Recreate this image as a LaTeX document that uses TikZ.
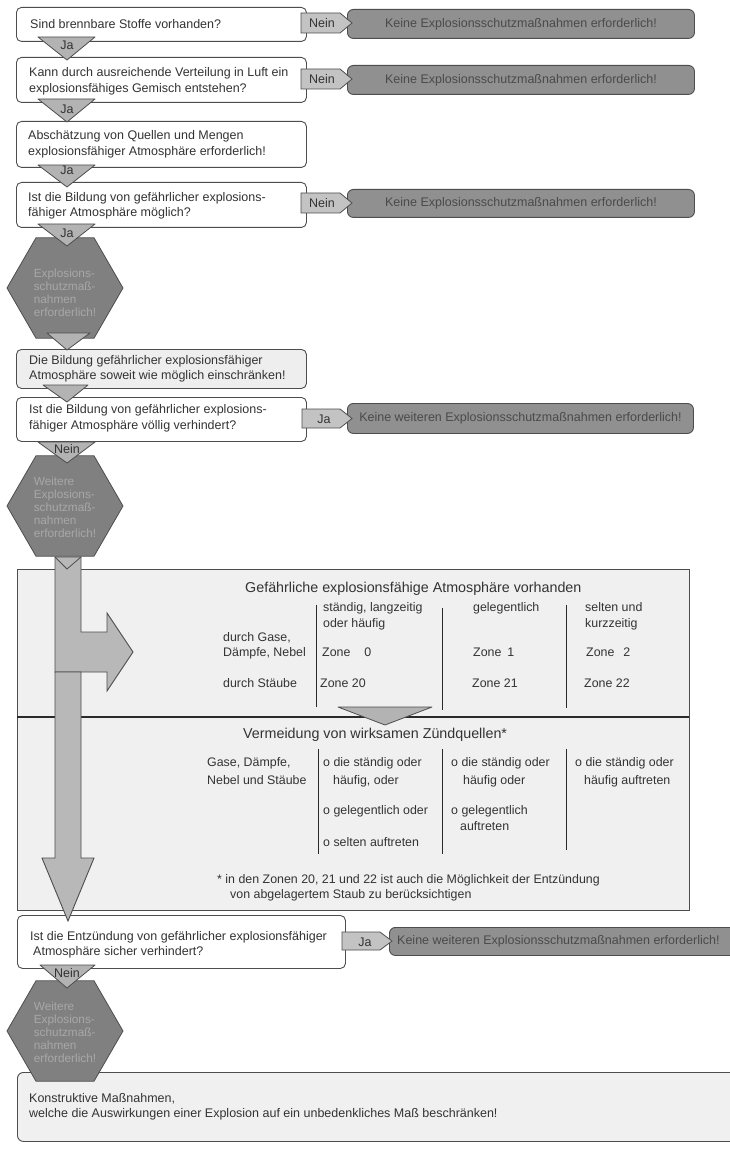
\documentclass[tikz,border=0pt]{standalone}
\usepackage{fontspec}
\setmainfont{Liberation Sans}
\usetikzlibrary{shapes.geometric,calc}
\definecolor{bd}{HTML}{4D4D4D}
\definecolor{txt}{HTML}{333333}
\definecolor{rfill}{HTML}{909090}
\definecolor{rtxt}{HTML}{4A4A4A}
\definecolor{trifill}{HTML}{B3B3B3}
\definecolor{sidefill}{HTML}{C3C3C3}
\definecolor{hexfill}{HTML}{808080}
\definecolor{hextxt}{HTML}{A8A8A8}
\definecolor{panel}{HTML}{F0F0F0}
\definecolor{lightbox}{HTML}{EEEEEE}
\definecolor{arrowfill}{HTML}{B8B8B8}
\definecolor{dark}{HTML}{2A2A2A}
\newcommand\fQ{\fontsize{12.5}{15.5}\selectfont}
\newcommand\fH{\fontsize{11.8}{13}\selectfont}
\newcommand\fT{\fontsize{12.4}{15}\selectfont}
\newcommand\fB{\fontsize{14.3}{17}\selectfont}
\begin{document}
\begin{tikzpicture}[x=1pt,y=-1pt,
  qbox/.style={draw=bd, fill=white, rounded corners=5pt, line width=0.9pt, anchor=north west, inner sep=0pt},
  qtext/.style={anchor=west, align=left, inner sep=0pt, text=txt, font=\fQ},
  rbox/.style={draw=bd, fill=rfill, rounded corners=6pt, line width=0.9pt, anchor=north west, inner sep=0pt, text=rtxt, font=\fQ},
  tri/.style={draw=bd, fill=trifill, line width=0.8pt, line join=round},
  side/.style={draw=bd, fill=sidefill, line width=0.8pt},
  lbl/.style={anchor=base, inner sep=0pt, text=txt, font=\fQ},
  hexa/.style={regular polygon, regular polygon sides=6, minimum size=116pt, draw=bd, fill=hexfill, line width=0.8pt, inner sep=0pt},
  hextext/.style={align=left, inner sep=0pt, text=hextxt, font=\fH},
  ttext/.style={anchor=base west, inner sep=0pt, text=txt, font=\fT},
  head/.style={anchor=base west, inner sep=0pt, text=txt, font=\fB},
  colline/.style={draw=dark, line width=0.9pt},
]
\useasboundingbox (0,0) rectangle (730,1150);
\clip (0,0) rectangle (730,1150);
\fill[white] (0,0) rectangle (730,1150);

% ---------- big panel ----------
\draw[draw=bd, fill=panel, line width=1pt] (17,569) rectangle (689,910);
\draw[draw=dark, line width=1.6pt] (17,717) -- (689,717);
\draw[colline] (316,605) -- (316,707);
\draw[colline] (442,608) -- (442,710);
\draw[colline] (566,605) -- (566,708);
\draw[colline] (318,749) -- (318,854);
\draw[colline] (442,749) -- (442,854);
\draw[colline] (566,749) -- (566,850);
\draw[tri] (338,707) -- (432,707) -- (385,725) -- cycle;

\node[head] (ph1) at (245,592) {Gefährliche explosionsfähige Atmosphäre vorhanden};
\node[ttext] (c1a) at (323,611) {ständig, langzeitig};
\node[ttext] (c1b) at (323,627) {oder häufig};
\node[ttext] (c2a) at (473,611) {gelegentlich};
\node[ttext] (c3a) at (585,611) {selten und};
\node[ttext] (c3b) at (585,627) {kurzzeitig};
\node[ttext] (r1a) at (223,641) {durch Gase,};
\node[ttext] (r1b) at (223,656) {Dämpfe, Nebel};
\node[ttext] (z0) at (322,656) {Zone\hspace{14pt}0};
\node[ttext] (z1) at (473,656) {Zone\hspace{6pt}1};
\node[ttext] (z2) at (586,656) {Zone\hspace{9pt}2};
\node[ttext] (r2a) at (223,687) {durch Stäube};
\node[ttext] (z20) at (320,687) {Zone 20};
\node[ttext] (z21) at (472,687) {Zone 21};
\node[ttext] (z22) at (584,687) {Zone 22};

\node[head] (ph2) at (243,738) {Vermeidung von wirksamen Zündquellen*};
\node[ttext] (g1) at (207,766) {Gase, Dämpfe,};
\node[ttext] (g2) at (207,784) {Nebel und Stäube};
\node[ttext] (a1) at (323,766) {o die ständig oder};
\node[ttext] (a2) at (333,784) {häufig, oder};
\node[ttext] (a3) at (323,814) {o gelegentlich oder};
\node[ttext] (a4) at (323,846) {o selten auftreten};
\node[ttext] (b1) at (451,766) {o die ständig oder};
\node[ttext] (b2) at (463,784) {häufig oder};
\node[ttext] (b3) at (451,814) {o gelegentlich};
\node[ttext] (b4) at (460,830) {auftreten};
\node[ttext] (d1) at (575,766) {o die ständig oder};
\node[ttext] (d2) at (584,784) {häufig auftreten};
\node[ttext] (fn1) at (217,883) {* in den Zonen 20, 21 und 22 ist auch die Möglichkeit der Entzündung};
\node[ttext] (fn2) at (230,898) {von abgelagertem Staub zu berücksichtigen};

% ---------- question boxes ----------
\node[qbox, minimum width=290pt, minimum height=34pt] (q1) at (16,7) {};
\node[qtext] (q1t) at ([xshift=14pt]q1.west) {Sind brennbare Stoffe vorhanden?};
\node[qbox, minimum width=290pt, minimum height=45pt] (q2) at (16,57) {};
\node[qtext] (q2t) at ([xshift=13pt,yshift=-1.5pt]q2.west) {Kann durch ausreichende Verteilung in Luft ein\\explosionsfähiges Gemisch entstehen?};
\node[qbox, minimum width=290pt, minimum height=46pt] (q3) at (16,121) {};
\node[qtext] (q3t) at ([xshift=12pt]q3.west) {Abschätzung von Quellen und Mengen\\explosionsfähiger Atmosphäre erforderlich!};
\node[qbox, minimum width=290pt, minimum height=45pt] (q4) at (16,182) {};
\node[qtext] (q4t) at ([xshift=12pt,yshift=-1pt]q4.west) {Ist die Bildung von gefährlicher explosions-\\fähiger Atmosphäre möglich?};
\node[qbox, fill=lightbox, minimum width=290pt, minimum height=39pt] (q5) at (16,349) {};
\node[qtext] (q5t) at ([xshift=13pt]q5.west) {Die Bildung gefährlicher explosionsfähiger\\Atmosphäre soweit wie möglich einschränken!};
\node[qbox, minimum width=290pt, minimum height=44pt] (q6) at (16,397) {};
\node[qtext] (q6t) at ([xshift=13pt,yshift=1pt]q6.west) {Ist die Bildung von gefährlicher explosions-\\fähiger Atmosphäre völlig verhindert?};
\node[qbox, minimum width=328pt, minimum height=53pt] (q7) at (17,915) {};
\node[qtext] (q7t) at ([xshift=13pt,yshift=-3pt]q7.west) {Ist die Entzündung von gefährlicher explosionsfähiger\\\hspace{3pt}Atmosphäre sicher verhindert?};
\node[qbox, fill=panel, rounded corners=6pt, minimum width=723pt, minimum height=69pt] (q8) at (17,1072) {};
\node[qtext] (q8t) at ([xshift=12pt]q8.west) {Konstruktive Maßnahmen,\\welche die Auswirkungen einer Explosion auf ein unbedenkliches Maß beschränken!};

% ---------- result boxes ----------
\node[rbox, minimum width=347pt, minimum height=29pt] (e1) at (347,9) {Keine Explosionsschutzmaßnahmen erforderlich!};
\node[rbox, minimum width=347pt, minimum height=29pt] (e2) at (347,65) {Keine Explosionsschutzmaßnahmen erforderlich!};
\node[rbox, minimum width=347pt, minimum height=28pt] (e3) at (347,189) {Keine Explosionsschutzmaßnahmen erforderlich!};
\node[rbox, minimum width=346pt, minimum height=30pt] (e4) at (347,403) {Keine weiteren Explosionsschutzmaßnahmen erforderlich!};
\node[rbox, minimum width=360pt, minimum height=28pt] (e5) at (389,927) {};
\node[anchor=west, inner sep=0pt, text=rtxt, font=\fQ] (e5t) at (397,941) {Keine weiteren Explosionsschutzmaßnahmen erforderlich!};

% ---------- side arrows ----------
\draw[side] (301,13) -- (340,13) -- (352,23) -- (340,33) -- (301,33) -- cycle;
\node[lbl] (s1) at (322,28) {Nein};
\draw[side] (301,69) -- (340,69) -- (352,79) -- (340,89) -- (301,89) -- cycle;
\node[lbl] (s2) at (322,84) {Nein};
\draw[side] (301,193) -- (340,193) -- (352,203) -- (340,213) -- (301,213) -- cycle;
\node[lbl] (s3) at (322,208) {Nein};
\draw[side] (302,409) -- (340,409) -- (352,418.5) -- (340,428) -- (302,428) -- cycle;
\node[lbl] (s4) at (324,423) {Ja};
\draw[side] (342,932) -- (380,932) -- (392,941) -- (380,950) -- (342,950) -- cycle;
\node[lbl] (s5) at (365,946) {Ja};

% ---------- hexagons ----------
\node[hexa] (h1) at (65,288) {};
\node[hexa] (h2) at (65,506) {};
\node[hexa] (h3) at (65,1031) {};
\node[hextext] (h1t) at (65,293) {Explosions-\\schutzmaß-\\nahmen\\erforderlich!};
\node[hextext] (h2t) at (65,507) {Weitere\\Explosions-\\schutzmaß-\\nahmen\\erforderlich!};
\node[hextext] (h3t) at (65,1032) {Weitere\\Explosions-\\schutzmaß-\\nahmen\\erforderlich!};

% ---------- down triangles ----------
\draw[tri] (38,37) -- (95,37) -- (67,60) -- cycle;
\node[lbl] (j1) at (67,50) {Ja};
\draw[tri] (38,99) -- (95,99) -- (67,122) -- cycle;
\node[lbl] (j2) at (67,114) {Ja};
\draw[tri] (38,165) -- (95,165) -- (67,187) -- cycle;
\node[lbl] (j3) at (67,175) {Ja};
\draw[tri] (38,224) -- (95,224) -- (67,246) -- cycle;
\node[lbl] (j4) at (67,237) {Ja};
\draw[tri] (47,333) -- (90,333) -- (67,350) -- cycle;
\draw[tri] (43,385) -- (88,385) -- (67,402) -- cycle;
\draw[tri] (38,442) -- (95,442) -- (67,463) -- cycle;
\node[lbl] (n7) at (67,453) {Nein};
\draw[tri] (40,965) -- (95,965) -- (67,988) -- cycle;
\node[lbl] (n8) at (67,977) {Nein};

% ---------- big arrow ----------
\draw[draw=bd, fill=arrowfill, line width=0.9pt, line join=miter]
  (55,557) -- (81,557) -- (81,632) -- (107,632) -- (107,613) -- (133,652)
  -- (107,691) -- (107,672) -- (55,672) -- cycle;
\draw[draw=bd, fill=arrowfill, line width=0.9pt, line join=miter]
  (55,672) -- (81,672) -- (81,858) -- (94,858) -- (68,921) -- (42,858)
  -- (55,858) -- cycle;
\draw[draw=bd, line width=0.8pt] (55,557) -- (67,569) -- (81,557);
\end{tikzpicture}
\end{document}
